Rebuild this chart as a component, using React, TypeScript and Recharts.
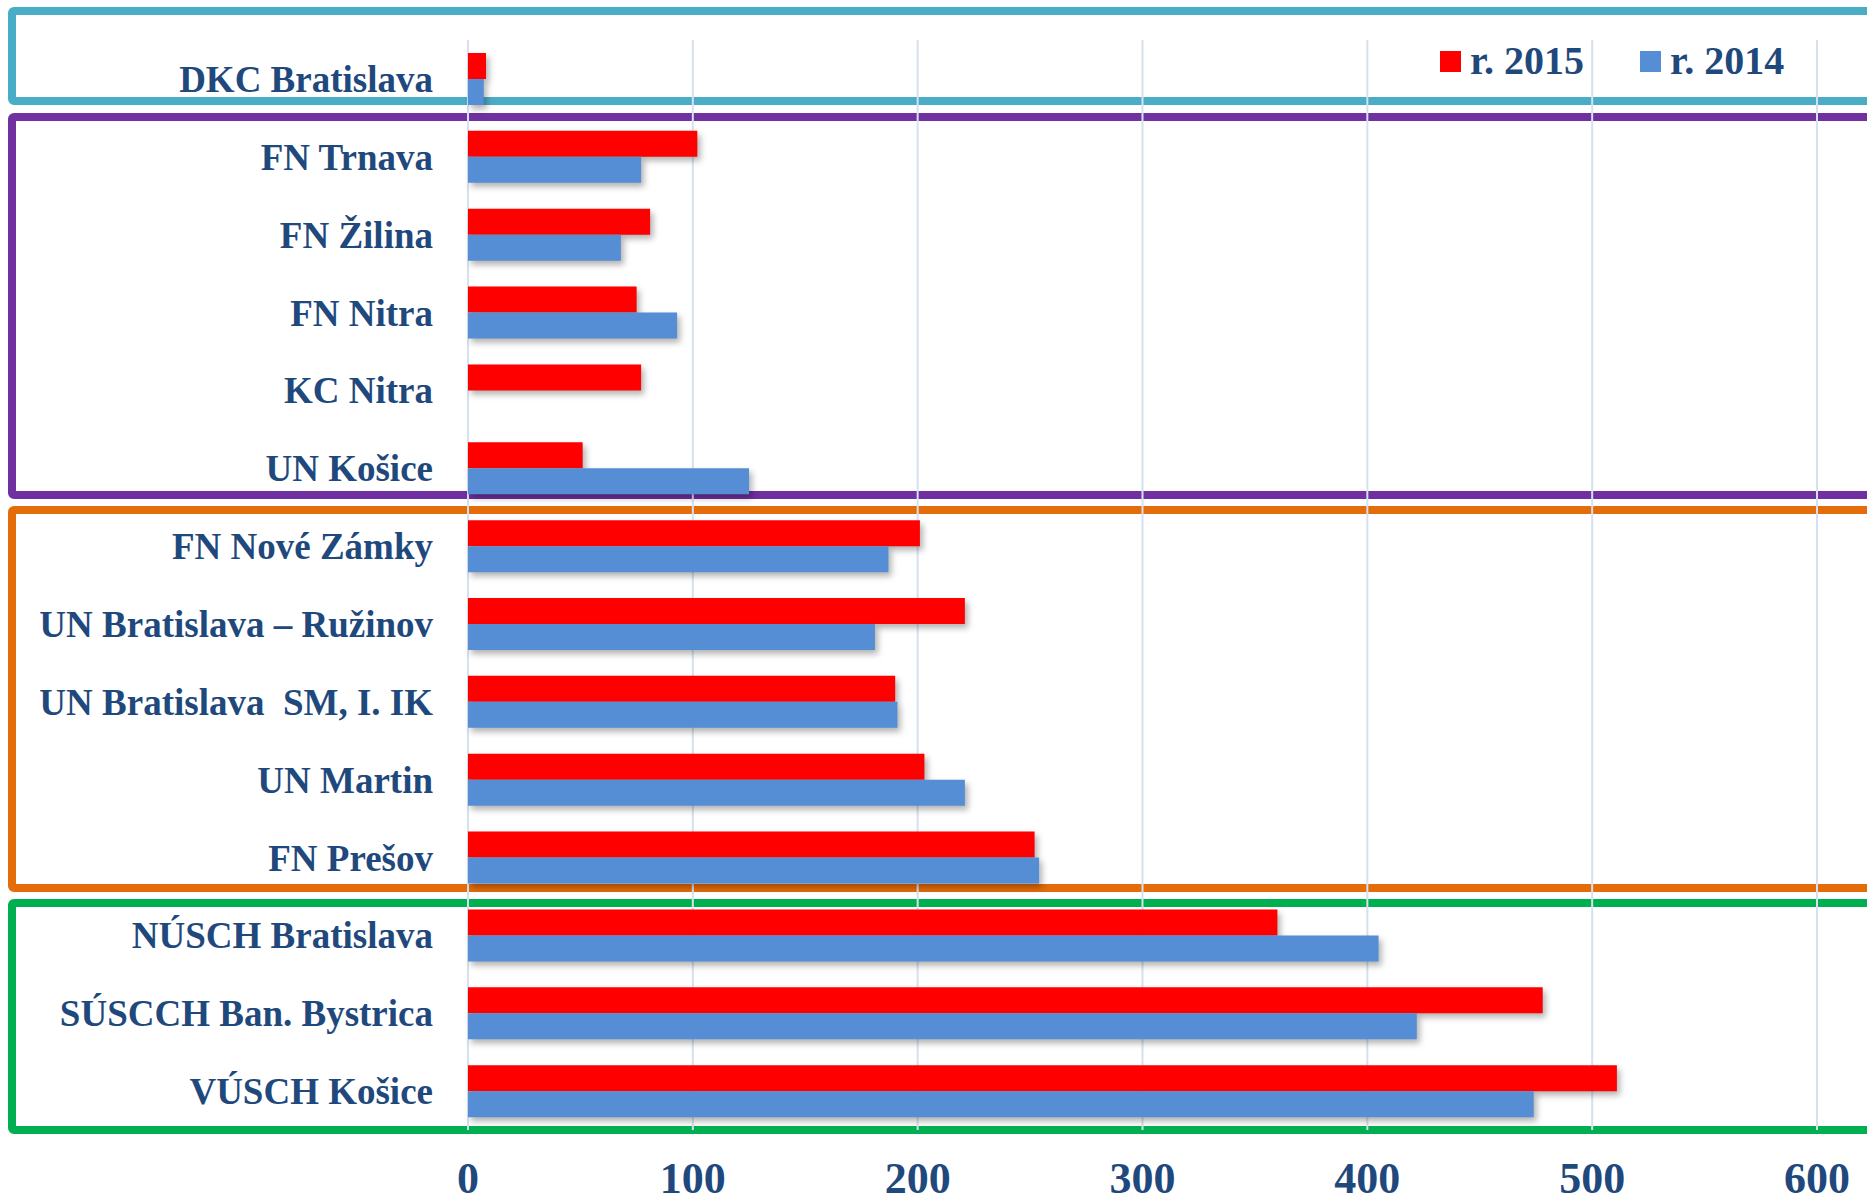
import { BarChart, Bar, XAxis, YAxis, CartesianGrid, Legend, Rectangle } from "recharts";

const hospitals = [
  "DKC Bratislava",
  "FN Trnava",
  "FN Žilina",
  "FN Nitra",
  "KC Nitra",
  "UN Košice",
  "FN Nové Zámky",
  "UN Bratislava – Ružinov",
  "UN Bratislava\u00A0 SM, I. IK",
  "UN Martin",
  "FN Prešov",
  "NÚSCH Bratislava",
  "SÚSCCH Ban. Bystrica",
  "VÚSCH Košice",
];

const values2015 = [8, 102, 81, 75, 77, 51, 201, 221, 190, 203, 252, 360, 478, 511];
const values2014 = [7, 77, 68, 93, 0, 125, 187, 181, 191, 221, 254, 405, 422, 474];

const seriesNames = ["r. 2015", "r. 2014"];
const xTicks = [0, 100, 200, 300, 400, 500, 600];

const data = hospitals.map((name, i) => ({
  name,
  y2015: values2015[i],
  y2014: values2014[i],
}));

const textColor = "#1F497D";
const fontFamily = "'Liberation Serif', 'Times New Roman', serif";

// group frames behind the chart (open on the right side)
const groups = [
  { top: 7, bottom: 105, color: "#4BACC6" },
  { top: 113, bottom: 499, color: "#7030A0" },
  { top: 506, bottom: 892, color: "#E46C0A" },
  { top: 899, bottom: 1134, color: "#00B050" },
];

const ShadowBar = (props: any) => (
  <Rectangle
    {...props}
    style={{ filter: "drop-shadow(3px 4px 3px rgba(0,0,0,0.3))" }}
  />
);

const renderLegend = (props: any) => {
  // keep series order (2015 first), legend sorts by name otherwise
  const payload = [...props.payload].sort(
    (a: any, b: any) => seriesNames.indexOf(a.value) - seriesNames.indexOf(b.value),
  );
  return (
    <div style={{ display: "flex", alignItems: "center" }}>
      {payload.map((entry: any) => (
        <div
          key={entry.value}
          style={{ display: "flex", alignItems: "center", marginRight: 56 }}
        >
          <span
            style={{
              display: "inline-block",
              width: 21,
              height: 21,
              background: entry.color,
              marginRight: 9,
            }}
          />
          <span
            style={{
              fontFamily,
              fontWeight: "bold",
              fontSize: 40,
              color: textColor,
              lineHeight: "40px",
            }}
          >
            {entry.value}
          </span>
        </div>
      ))}
    </div>
  );
};

export default function App() {
  return (
    <div
      style={{
        position: "absolute",
        left: 0,
        top: 0,
        width: 1867,
        height: 1204,
        background: "#fff",
        overflow: "hidden",
      }}
    >
      {groups.map((g) => (
        <div
          key={g.color}
          style={{
            position: "absolute",
            left: 8,
            top: g.top,
            width: 1900,
            height: g.bottom - g.top,
            boxSizing: "border-box",
            border: `8px solid ${g.color}`,
            borderRadius: 6,
          }}
        />
      ))}
      <div style={{ position: "absolute", left: 0, top: 0 }}>
        <BarChart
          width={1867}
          height={1204}
          data={data}
          layout="vertical"
          margin={{ top: 40, right: 50, bottom: 0, left: 0 }}
          barSize={26}
          barGap={0}
        >
          <CartesianGrid
            horizontal={false}
            stroke="#D6E1F0"
            strokeWidth={2}
          />
          <XAxis
            type="number"
            domain={[0, 600]}
            ticks={xTicks}
            height={74}
            axisLine={false}
            tickLine={false}
            tickSize={0}
            tickMargin={32}
            tick={{
              fill: textColor,
              fontSize: 44,
              fontWeight: "bold",
              fontFamily,
            }}
          />
          <YAxis
            type="category"
            dataKey="name"
            width={468}
            axisLine={false}
            tickLine={false}
            tickSize={0}
            tickMargin={35}
            interval={0}
            tick={{
              fill: textColor,
              fontSize: 37,
              fontWeight: "bold",
              fontFamily,
            }}
          />
          <Legend
            layout="horizontal"
            verticalAlign="middle"
            align="center"
            content={renderLegend}
            wrapperStyle={{ top: 41, left: 1440, width: 420 }}
          />
          <Bar
            dataKey="y2015"
            name={seriesNames[0]}
            fill="#FF0000"
            shape={ShadowBar}
            isAnimationActive={false}
          />
          <Bar
            dataKey="y2014"
            name={seriesNames[1]}
            fill="#558ED5"
            shape={ShadowBar}
            isAnimationActive={false}
          />
        </BarChart>
      </div>
    </div>
  );
}
